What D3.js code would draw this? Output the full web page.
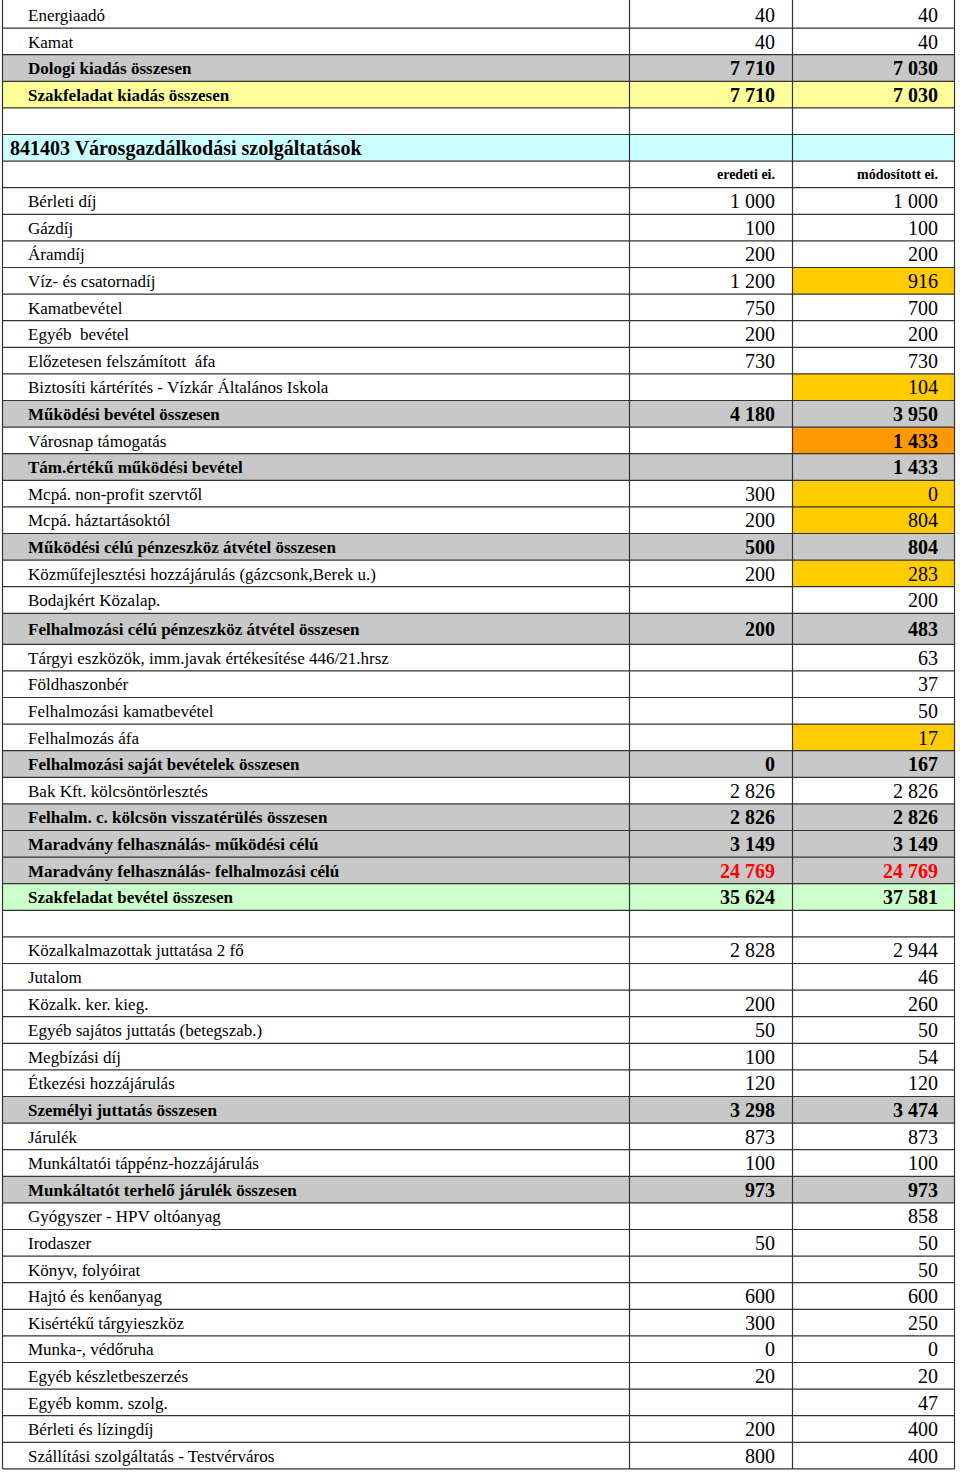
<!DOCTYPE html>
<html>
<head>
<meta charset="utf-8">
<style>
  body { margin: 0; background: #fff; }
  text { font-family: "Liberation Serif", "Times New Roman", serif; white-space: pre; }
</style>
</head>
<body>
<script src="https://cdn.jsdelivr.net/npm/d3@7"></script>
<script>

// row labels, top to bottom
var labels = [
  "Energiaadó", "Kamat", "Dologi kiadás összesen", "Szakfeladat kiadás összesen", "",
  "841403 Városgazdálkodási szolgáltatások", "",
  "Bérleti díj", "Gázdíj", "Áramdíj", "Víz- és csatornadíj", "Kamatbevétel",
  "Egyéb  bevétel", "Előzetesen felszámított  áfa", "Biztosíti kártérítés - Vízkár Általános Iskola",
  "Működési bevétel összesen", "Városnap támogatás", "Tám.értékű működési bevétel",
  "Mcpá. non-profit szervtől", "Mcpá. háztartásoktól", "Működési célú pénzeszköz átvétel összesen",
  "Közműfejlesztési hozzájárulás (gázcsonk,Berek u.)", "Bodajkért Közalap.",
  "Felhalmozási célú pénzeszköz átvétel összesen",
  "Tárgyi eszközök, imm.javak értékesítése 446/21.hrsz", "Földhaszonbér",
  "Felhalmozási kamatbevétel", "Felhalmozás áfa", "Felhalmozási saját bevételek összesen",
  "Bak Kft. kölcsöntörlesztés", "Felhalm. c. kölcsön visszatérülés összesen",
  "Maradvány felhasználás- működési célú", "Maradvány felhasználás- felhalmozási célú",
  "Szakfeladat bevétel összesen", "",
  "Közalkalmazottak juttatása 2 fő", "Jutalom", "Közalk. ker. kieg.",
  "Egyéb sajátos juttatás (betegszab.)", "Megbízási díj", "Étkezési hozzájárulás",
  "Személyi juttatás összesen", "Járulék", "Munkáltatói táppénz-hozzájárulás",
  "Munkáltatót terhelő járulék összesen", "Gyógyszer - HPV oltóanyag", "Irodaszer",
  "Könyv, folyóirat", "Hajtó és kenőanyag", "Kisértékű tárgyieszköz", "Munka-, védőruha",
  "Egyéb készletbeszerzés", "Egyéb komm. szolg.", "Bérleti és lízingdíj",
  "Szállítási szolgáltatás - Testvérváros"
];

// eredeti előirányzat
var eredeti = [
  40, 40, 7710, 7710, null, null, null,
  1000, 100, 200, 1200, 750, 200, 730, null,
  4180, null, null, 300, 200, 500, 200, null,
  200, null, null, null, null, 0,
  2826, 2826, 3149, 24769, 35624, null,
  2828, null, 200, 50, 100, 120, 3298, 873, 100, 973,
  null, 50, null, 600, 300, 0, 20, null, 200, 800
];

// módosított előirányzat
var modositott = [
  40, 40, 7030, 7030, null, null, null,
  1000, 100, 200, 916, 700, 200, 730, 104,
  3950, 1433, 1433, 0, 804, 804, 283, 200,
  483, 63, 37, 50, 17, 167,
  2826, 2826, 3149, 24769, 37581, null,
  2944, 46, 260, 50, 54, 120, 3474, 873, 100, 973,
  858, 50, 50, 600, 250, 0, 20, 47, 400, 400
];

var headers = ["eredeti ei.", "módosított ei."];

// row kinds: n = normal, t = total, k = kiadás total, s = section, h = header, b = bevétel total, e = empty
var kinds = "nntkesh" + "nnnnnnnn" + "tntnntnn" + "tnnnnt" + "ntttbe" +
            "nnnnnntnnt" + "nnnnnnnnnn";

// highlighted modified cells
var marked = { 10: "gold", 14: "gold", 16: "orange", 18: "gold", 19: "gold", 21: "gold", 27: "gold" };
var redRows = [32];

var width = 960, height = 1472;
var fills = { t: "#c8c8c8", k: "#ffff99", s: "#ccffff", b: "#ccffcc", gold: "#ffcc00", orange: "#ff9900" };

var svg = d3.select("body").append("svg")
    .attr("width", width)
    .attr("height", height);

var rows = labels.map(function(l, i) {
  return { i: i, label: l, a: eredeti[i], b: modositott[i], kind: kinds[i] };
});

// row heights (one taller row)
var heights = rows.map(function(d) { return d.i === 23 ? 31 : 26.6; });
var tops = [1.5].concat(Array.from(d3.cumsum(heights), function(v) { return 1.5 + v; }));

var x = d3.scaleOrdinal()
    .domain(["left", "c1", "c2", "right"])
    .range([2.5, 629.5, 792.5, 954.5]);

var fmt = d3.formatLocale({ decimal: ",", thousands: " ", grouping: [3], currency: ["", ""] }).format(",d");

var g = svg.selectAll("g.row")
  .data(rows)
  .enter().append("g")
    .attr("class", "row")
    .attr("transform", function(d) { return "translate(0," + tops[d.i] + ")"; });

// row background
g.filter(function(d) { return fills[d.kind]; })
  .append("rect")
    .attr("x", x("left"))
    .attr("width", x("right") - x("left"))
    .attr("height", function(d) { return heights[d.i]; })
    .attr("fill", function(d) { return fills[d.kind]; });

// highlighted cells
g.filter(function(d) { return marked[d.i]; })
  .append("rect")
    .attr("x", x("c2"))
    .attr("width", x("right") - x("c2"))
    .attr("height", function(d) { return heights[d.i]; })
    .attr("fill", function(d) { return fills[marked[d.i]]; });

var bold = function(d) { return "ntkbsh".indexOf(d.kind) > 0 ? "bold" : "normal"; };

g.append("text")
    .attr("x", function(d) { return d.kind === "s" ? 10 : 28; })
    .attr("y", function(d) { return heights[d.i] / 2; })
    .attr("dy", "0.36em")
    .attr("font-size", function(d) { return d.kind === "s" ? 20 : 17; })
    .attr("font-weight", bold)
    .text(function(d) { return d.label; });

var cols = [{ key: "a", right: x("c2") - 17.5 }, { key: "b", right: x("right") - 16.5 }];
cols.forEach(function(c, ci) {
  g.filter(function(d) { return d[c.key] !== null; })
    .append("text")
      .attr("x", c.right)
      .attr("y", function(d) { return heights[d.i] / 2; })
      .attr("dy", "0.36em")
      .attr("text-anchor", "end")
      .attr("font-size", 20)
      .attr("font-weight", function(d) { return (bold(d) === "bold" || (ci === 1 && marked[d.i] === "orange")) ? "bold" : "normal"; })
      .attr("fill", function(d) { return redRows.indexOf(d.i) >= 0 ? "#ff0000" : "#000"; })
      .text(function(d) { return fmt(d[c.key]); });
});

// column headers
g.filter(function(d) { return d.kind === "h"; })
  .selectAll("text.hd")
  .data(headers)
  .enter().append("text")
    .attr("class", "hd")
    .attr("x", function(h, k) { return cols[k].right; })
    .attr("y", 13.3)
    .attr("dy", "0.36em")
    .attr("text-anchor", "end")
    .attr("font-size", 14)
    .attr("font-weight", "bold")
    .text(function(h) { return h; });

// grid lines
svg.selectAll("line.h")
  .data(tops.slice(1))
  .enter().append("line")
    .attr("x1", x("left")).attr("x2", x("right"))
    .attr("y1", function(d) { return d; }).attr("y2", function(d) { return d; })
    .attr("stroke", "#333").attr("stroke-width", 1.2);

svg.selectAll("line.v")
  .data(["left", "c1", "c2", "right"])
  .enter().append("line")
    .attr("x1", function(d) { return x(d); }).attr("x2", function(d) { return x(d); })
    .attr("y1", 0).attr("y2", tops[tops.length - 1])
    .attr("stroke", "#333").attr("stroke-width", 1.2);

</script>
</body>
</html>
